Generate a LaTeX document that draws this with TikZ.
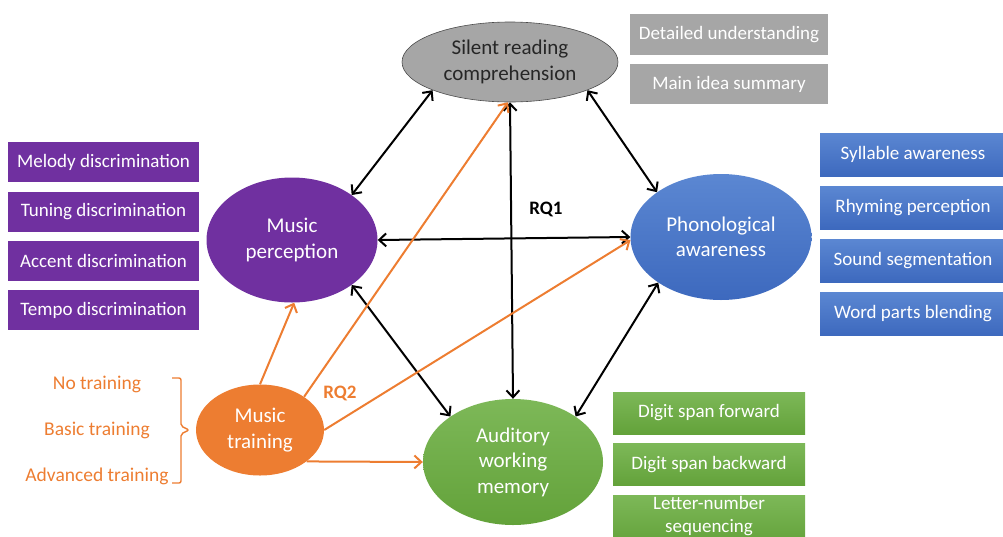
\documentclass[tikz,border=0pt]{standalone}
\usepackage{fontspec}
\setmainfont{Carlito}
\usetikzlibrary{shapes.geometric,arrows.meta}
\definecolor{sgray}{HTML}{A6A6A6}
\definecolor{spurple}{HTML}{7030A0}
\definecolor{sorange}{HTML}{ED7D31}
\definecolor{sbluetop}{HTML}{5B87D2}
\definecolor{sbluebot}{HTML}{3D69BE}
\definecolor{sgreentop}{HTML}{7DB858}
\definecolor{sgreenbot}{HTML}{63A23A}
\definecolor{sdark}{HTML}{262626}
\tikzset{
  ell/.style={ellipse, inner sep=0pt, align=center, font=\fontsize{21}{25.5}\selectfont},
  box/.style={rectangle, inner sep=0pt, align=center, text=white, font=\fontsize{19}{23}\selectfont},
  blk/.style={line width=2pt, black, {Straight Barb[length=7pt,width=13pt]}-{Straight Barb[length=7pt,width=13pt]}},
  org/.style={line width=2pt, sorange, -{Straight Barb[length=7pt,width=13pt]}},
  lbl/.style={text=sorange, font=\fontsize{19.5}{22}\selectfont},
}
\begin{document}
\begin{tikzpicture}[x=1pt,y=-1pt]
\useasboundingbox (0,0) rectangle (1003,536);
\clip (0,0) rectangle (1003,536);
% ellipses
\node[ell, fill=sgray, draw=black!70, line width=0.6pt, text=sdark, minimum width=216, minimum height=80] (sr) at (510,62) {Silent reading\\comprehension};
\node[ell, fill=spurple, text=white, minimum width=171, minimum height=125] (mp) at (292,240) {Music\\perception};
\node[ell, top color=sbluetop, bottom color=sbluebot, text=white, minimum width=181, minimum height=126] (pa) at (721,237) {Phonological\\awareness};
\node[ell, fill=sorange, text=white, minimum width=128, minimum height=91] (mt) at (260,430) {Music\\training};
\node[ell, top color=sgreentop, bottom color=sgreenbot, text=white, minimum width=180, minimum height=126] (awm) at (513,462) {Auditory\\working\\memory};
% gray boxes
\node[box, fill=sgray, minimum width=198, minimum height=41] (g1) at (729,34.5) {Detailed understanding};
\node[box, fill=sgray, minimum width=198, minimum height=40] (g2) at (729,84) {Main idea summary};
% purple boxes
\node[box, fill=spurple, minimum width=191, minimum height=40] (p1) at (103.5,162) {Melody discrimination};
\node[box, fill=spurple, minimum width=191, minimum height=40] (p2) at (103.5,212) {Tuning discrimination};
\node[box, fill=spurple, minimum width=191, minimum height=40] (p3) at (103.5,261) {Accent discrimination};
\node[box, fill=spurple, minimum width=191, minimum height=40] (p4) at (103.5,310) {Tempo discrimination};
% blue boxes
\node[box, top color=sbluetop, bottom color=sbluebot, minimum width=186, minimum height=43] (b1) at (913,154.5) {Syllable awareness};
\node[box, top color=sbluetop, bottom color=sbluebot, minimum width=186, minimum height=43] (b2) at (913,207.5) {Rhyming perception};
\node[box, top color=sbluetop, bottom color=sbluebot, minimum width=186, minimum height=43] (b3) at (913,260.5) {Sound segmentation};
\node[box, top color=sbluetop, bottom color=sbluebot, minimum width=186, minimum height=43] (b4) at (913,313.5) {Word parts blending};
% green boxes
\node[box, top color=sgreentop, bottom color=sgreenbot, minimum width=192, minimum height=42] (gr1) at (709,413) {Digit span forward};
\node[box, top color=sgreentop, bottom color=sgreenbot, minimum width=192, minimum height=42] (gr2) at (709,464.5) {Digit span backward};
\node[box, top color=sgreentop, bottom color=sgreenbot, minimum width=192, minimum height=50] (gr3) at (709,520) {};
\node[box] (gr3t) at (709,516) {Letter-number\\sequencing};
% left labels
\node[lbl] (nt) at (97,384) {No training};
\node[lbl] (bt) at (97,430) {Basic training};
\node[lbl] (at) at (97,476) {Advanced training};
\draw[sorange, line width=1.4pt, rounded corners=2pt] (172,378) -- (181,378) -- (181,426) -- (189,430) -- (181,434) -- (181,483) -- (172,483);
% RQ labels
\node[font=\fontsize{19}{22}\selectfont\bfseries] (rq1) at (546,209) {RQ1};
\node[font=\fontsize{19}{22}\selectfont\bfseries, text=sorange] (rq2) at (340,393) {RQ2};
% black arrows
\draw[blk] (sr.200) -- (mp.37);
\draw[blk] (sr.340) -- (pa.145);
\draw[blk] (sr.south) -- (awm.north);
\draw[blk] (mp.east) -- (pa.180);
\draw[blk] (mp.323) -- (awm.144);
\draw[blk] (pa.216) -- (awm.36);
% orange arrows
\draw[org] (mt.90) -- (mp.272);
\draw[org] (mt.37) -- (sr.267);
\draw[org] (mt.east) -- (pa.182);
\draw[org] (mt.326) -- (awm.west);
\end{tikzpicture}
\end{document}
